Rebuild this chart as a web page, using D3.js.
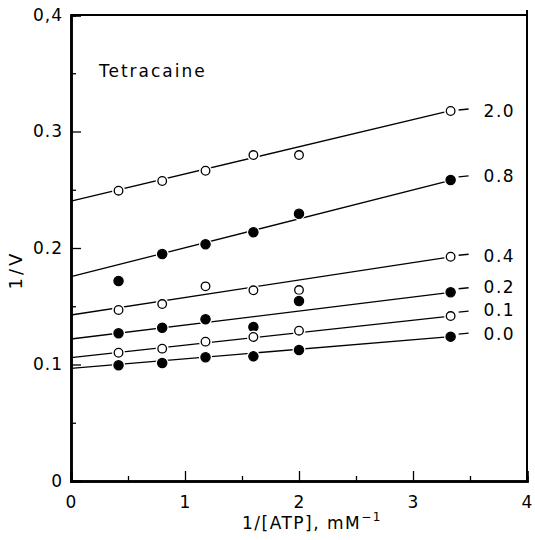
<!DOCTYPE html>
<html><head><meta charset="utf-8">
<script src="https://cdn.jsdelivr.net/npm/d3@7"></script>
<style>body{margin:0;background:#fff}svg{display:block}text{font-family:"DejaVu Sans",sans-serif;fill:#000}</style>
</head><body>
<svg id="c" width="535" height="540"></svg>
<script>
const xValues = [0.417, 0.8, 1.18, 1.6, 2.0, 3.33];
const seriesLabels = ["2.0", "0.8", "0.4", "0.2", "0.1", "0.0"];
const seriesFilled = [false, true, false, true, false, true];
const s20 = [0.2492, 0.2575, 0.2663, 0.2798, 0.2798, 0.3176];
const s08 = [0.1717, 0.1948, 0.2032, 0.2135, 0.2294, 0.2584];
const s04 = [0.1468, 0.1519, 0.1671, 0.1637, 0.1639, 0.1925];
const s02 = [0.1268, 0.1316, 0.1388, 0.1322, 0.1545, 0.1620];
const s01 = [0.1101, 0.1136, 0.1196, 0.1236, 0.1290, 0.1416];
const s00 = [0.0993, 0.1013, 0.1062, 0.1070, 0.1124, 0.1239];
const fitIntercepts = [0.2403, 0.1754, 0.1425, 0.1219, 0.1059, 0.0967];
const fitSlopes = [0.0233, 0.0248, 0.0150, 0.0120, 0.0107, 0.0082];
const xTickValues = [0, 1, 2, 3, 4];
const xTickLabels = ["0", "1", "2", "3", "4"];
const yTickValues = [0, 0.1, 0.2, 0.3, 0.4];
const yTickLabels = ["0", "0.1", "0.2", "0.3", "0,4"];
const seriesValues = [s20, s08, s04, s02, s01, s00];

const svg = d3.select("#c");
const x = d3.scaleLinear().domain([0, 4]).range([71, 527]);
const y = d3.scaleLinear().domain([0, 0.4]).range([481, 15]);

// frame
svg.append("line").attr("x1", x(0)).attr("x2", x(4)).attr("y1", y(0.4)).attr("y2", y(0.4)).attr("stroke", "#000").attr("stroke-width", 2);
svg.append("line").attr("x1", x(4)).attr("x2", x(4)).attr("y1", y(0.4) - 5).attr("y2", y(0)).attr("stroke", "#000").attr("stroke-width", 2);

// axes
const fs = "17px";
const yAx = svg.append("g").attr("transform", `translate(${x(0)},0)`)
  .call(d3.axisLeft(y).tickValues(yTickValues).tickSize(-10).tickPadding(8)
    .tickFormat((d, i) => yTickLabels[i]));
const yMin = svg.append("g").attr("transform", `translate(${x(0)},0)`)
  .call(d3.axisLeft(y).tickValues([0.05, 0.15, 0.25, 0.35]).tickSize(-5).tickFormat(""));
const xAx = svg.append("g").attr("transform", `translate(0,${y(0)})`)
  .call(d3.axisBottom(x).tickValues(xTickValues).tickSize(-10).tickPadding(15)
    .tickFormat((d, i) => xTickLabels[i]));
const xMin = svg.append("g").attr("transform", `translate(0,${y(0)})`)
  .call(d3.axisBottom(x).tickValues([0.5, 1.5, 2.5, 3.5]).tickSize(-5).tickFormat(""));
[yAx, yMin, xAx, xMin].forEach(g => {
  g.select(".domain").attr("stroke-width", 2.5).attr("stroke", "#000");
  g.selectAll(".tick line").attr("stroke", "#000").attr("stroke-width", 1.3);
  g.selectAll("text").attr("font-size", fs).attr("font-family", "DejaVu Sans, sans-serif")
    .attr("letter-spacing", "1px").attr("fill", "#000");
});

// axis titles
const xt = svg.append("text").attr("x", 312).attr("y", 529).attr("text-anchor", "middle")
  .attr("font-size", "17px").attr("letter-spacing", "1.5px");
xt.append("tspan").text("1/[ATP], mM");
xt.append("tspan").attr("dy", -8).attr("font-size", "12px").text("−1");
svg.append("text").attr("transform", "translate(22,270) rotate(-90)").attr("text-anchor", "middle")
  .attr("font-size", "18px").attr("letter-spacing", "3px").text("1/V");

svg.append("text").attr("x", 99).attr("y", 77).attr("font-size", "17px").attr("letter-spacing", "2px").text("Tetracaine");

// series
const labelNudge = [0, -4, -1, -5, -6, -3];
seriesValues.forEach((vals, si) => {
  const x1 = xValues[xValues.length - 1];
  svg.append("line")
    .attr("x1", x(0)).attr("y1", y(fitIntercepts[si]))
    .attr("x2", x(x1)).attr("y2", y(fitIntercepts[si] + fitSlopes[si] * x1))
    .attr("stroke", "#000").attr("stroke-width", 1.3);
  const ly = y(vals[vals.length - 1]);
  svg.append("line").attr("x1", x(x1) + 8).attr("x2", x(x1) + 18)
    .attr("y1", ly - 1 + labelNudge[si] / 2).attr("y2", ly - 2 + labelNudge[si] / 2)
    .attr("stroke", "#000").attr("stroke-width", 1.3);
  svg.append("text").attr("x", x(x1) + 33).attr("y", ly + labelNudge[si]).attr("dy", "0.35em")
    .attr("font-size", fs).attr("letter-spacing", "1.5px").text(seriesLabels[si]);
  const g = svg.append("g");
  g.selectAll("circle.halo").data(vals).join("circle").attr("class", "halo")
    .attr("cx", (d, i) => x(xValues[i])).attr("cy", d => y(d)).attr("r", 6.5).attr("fill", "#fff");
  g.selectAll("circle.pt").data(vals).join("circle").attr("class", "pt")
    .attr("cx", (d, i) => x(xValues[i])).attr("cy", d => y(d))
    .attr("r", seriesFilled[si] ? 4.6 : 4.3)
    .attr("fill", seriesFilled[si] ? "#000" : "#fff")
    .attr("stroke", "#000").attr("stroke-width", 1.3);
});
</script>
</body></html>
